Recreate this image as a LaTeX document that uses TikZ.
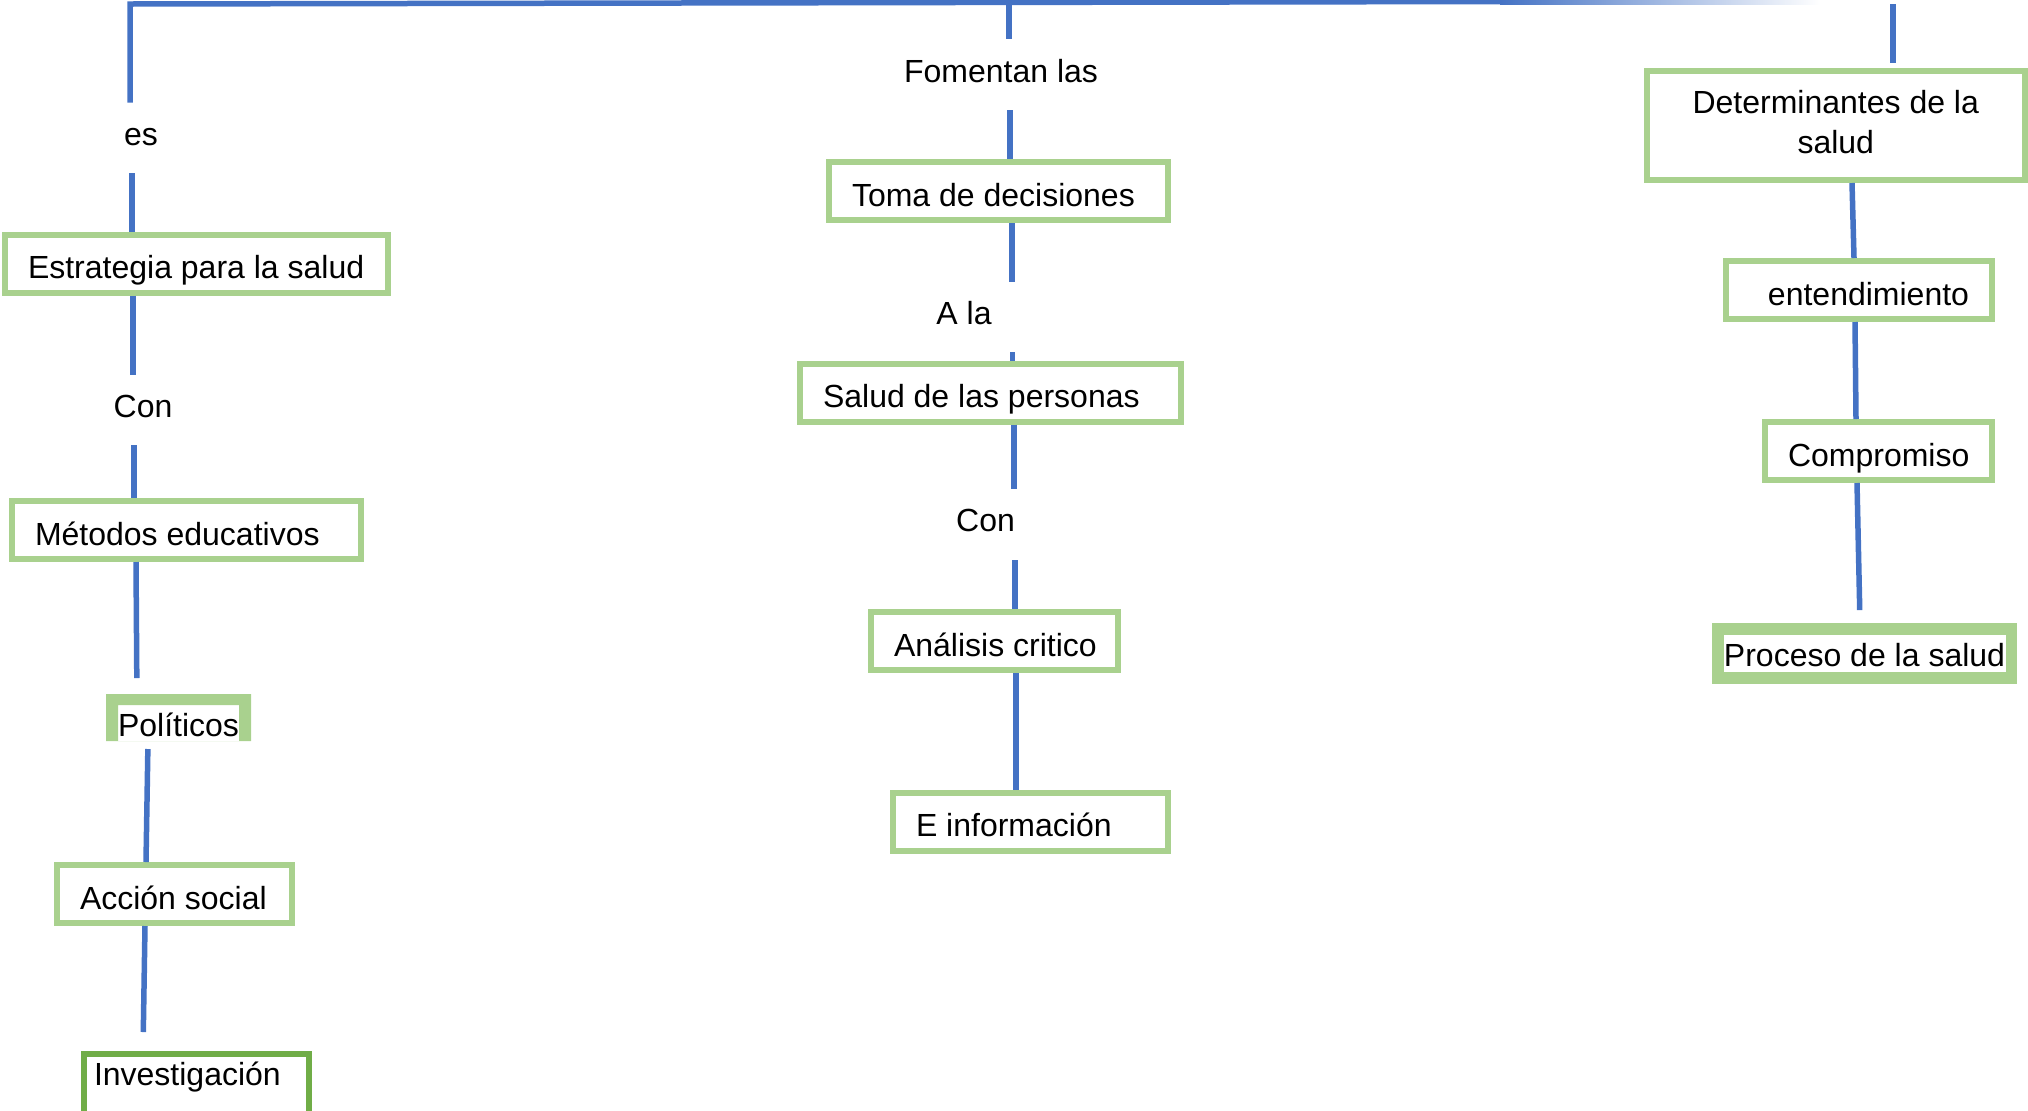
\documentclass[tikz,border=0pt]{standalone}
\usepackage{fontspec}
\setmainfont{Liberation Sans}
\definecolor{linkblue}{HTML}{4472C4}
\definecolor{boxgreen}{HTML}{A9D18E}
\definecolor{darkgreen}{HTML}{70AD47}
\newcommand{\bx}[3][l]{\makebox[#2][#1]{#3}}
\begin{document}
\begin{tikzpicture}[x=0.5pt,y=-0.5pt,line cap=butt,line join=miter,
  font=\fontsize{16}{20}\selectfont,
  link/.style={draw=linkblue,line width=2.75pt},
  frame/.style={draw=boxgreen,line width=3pt,fill=white},
  box/.style={frame,inner xsep=11.5pt,inner ysep=0pt,text height=22pt,text depth=7pt},
  lbl/.style={inner sep=0pt,minimum height=35pt,text depth=4pt}]
\useasboundingbox (0,0) rectangle (2028,1110);
\clip (0,0) rectangle (2028,1110);
\coordinate (tl) at (130,4);
\coordinate (tm) at (1009,4);
\coordinate (tr) at (1893,4);
\node[lbl,text depth=1pt] (es) at (141,138) {es};
\node[box] (estr) at (196.5,263.5) {\bx{168.5pt}{Estrategia para la salud}};
\node[lbl] (con1) at (143,410) {Con};
\node[box] (met) at (186.5,530) {\bx{151.5pt}{Métodos educativos}};
\node[inner sep=0pt,outer sep=0pt,fill=white,minimum width=60.5pt,text height=15.5pt,text depth=2.5pt] (pol) at (178.5,723) {Políticos};
\fill[boxgreen,even odd rule] ([xshift=-6pt]pol.south west) rectangle ([xshift=6pt,yshift=5.5pt]pol.north east)
  (pol.south west) rectangle (pol.north east);
\node[box] (acc) at (174.5,894) {\bx{94.5pt}{Acción social}};
\node[box,draw=darkgreen,inner xsep=5pt,text height=15.5pt,text depth=20pt] (inv) at (196.5,1089.5) {\bx{102.5pt}{Investigación}};
\node[lbl,minimum height=35.5pt] (fom) at (1001,74.5) {Fomentan las};
\node[box] (toma) at (998.5,191) {\bx{146.5pt}{Toma de decisiones}};
\node[lbl] (ala) at (964,317) {A la};
\node[box] (sal) at (990.5,392.5) {\bx{167.5pt}{Salud de las personas}};
\node[lbl,minimum height=35.5pt] (con2) at (985.5,524.5) {Con};
\node[box] (ana) at (994.5,641) {\bx{100.5pt}{Análisis critico}};
\node[box] (einf) at (1030.5,821.5) {\bx{114.5pt}{E información}};
\node[frame,align=center,inner sep=0pt,minimum width=188.75pt,minimum height=54.5pt] (det) at (1835.75,125.5) {Determinantes de la\\salud\rule[-4pt]{0pt}{0pt}};
\node[box] (ent) at (1859,290) {\bx[r]{110pt}{entendimiento}};
\node[box] (comp) at (1878.5,451) {\bx{90.5pt}{Compromiso}};
\node[frame,line width=5.75pt,inner sep=0pt,minimum width=146.75pt,text height=18.6pt,text depth=6.1pt] (proc) at (1864.5,653.5) {Proceso de la salud};
\draw[link] (es.north -| 130,0) -- (tl) -- (1500,1.5);
\shade[left color=linkblue,right color=white] (1500,-1) rectangle (1820,4.25);
\draw[link] (es.south -| 132,0) -- (estr.north -| 132,0);
\draw[link] (estr.south -| 133,0) -- (con1.north -| 133,0);
\draw[link] (con1.south -| 134,0) -- (met.north -| 134,0);
\draw[link,shorten >=13.5pt] (met.south -| 136,0) -- (pol.north -| 137,0);
\draw[link,shorten <=4pt] (pol.south -| 148,0) -- (acc.north -| 146,0);
\draw[link,shorten >=9.5pt] (acc.south -| 145,0) -- (inv.north -| 143,0);
\draw[link] (tm) -- (fom.north -| 1009,0);
\draw[link] (fom.south -| 1010,0) -- (toma.north -| 1010,0);
\draw[link] (toma.south -| 1012,0) -- (ala.north -| 1012,0);
\draw[link] (ala.south -| 1012.5,0) -- (sal.north -| 1012.5,0);
\draw[link] (sal.south -| 1014,0) -- (con2.north -| 1014,0);
\draw[link] (con2.south -| 1015,0) -- (ana.north -| 1015,0);
\draw[link] (ana.south -| 1016,0) -- (einf.north -| 1016,0);
\draw[link,shorten >=2.5pt] (tr) -- (det.north -| 1893,0);
\draw[link] (det.south -| 1852,0) -- (ent.north -| 1854,0);
\draw[link] (ent.south -| 1855,0) -- (comp.north -| 1856,0);
\draw[link,shorten >=6.5pt] (comp.south -| 1857,0) -- (proc.north -| 1860,0);
\end{tikzpicture}
\end{document}
